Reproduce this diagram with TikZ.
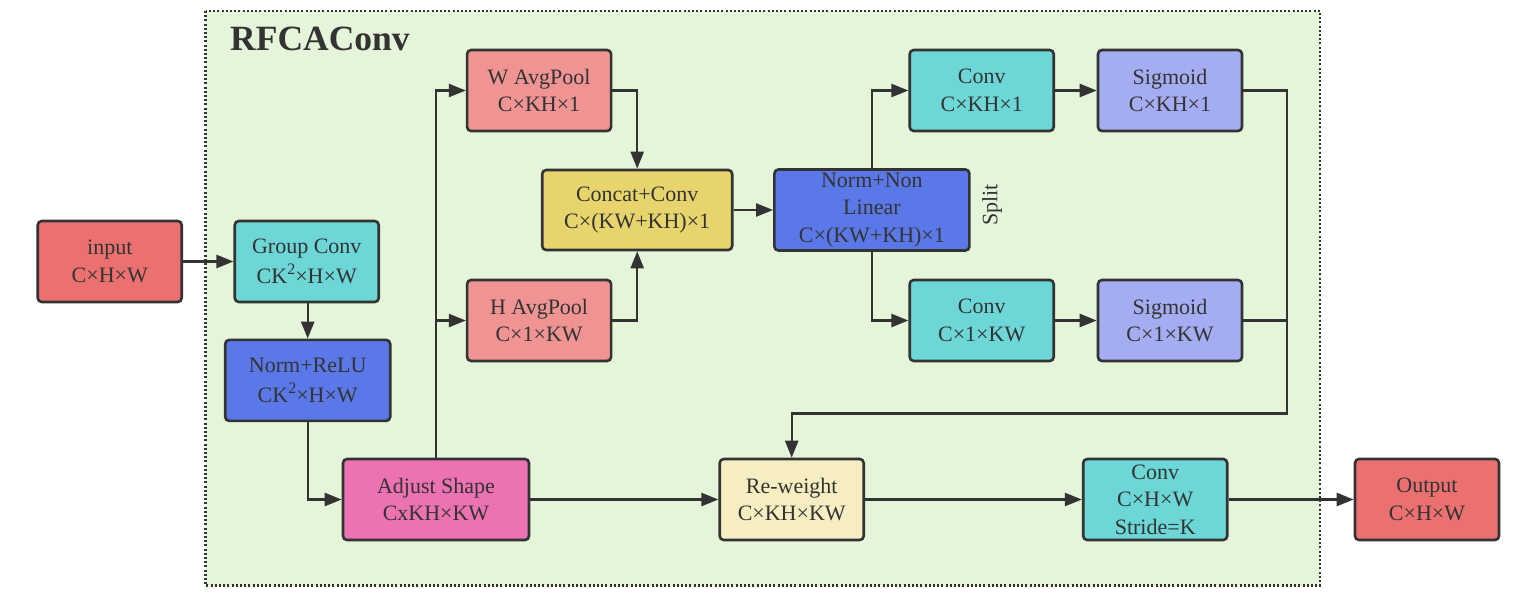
\documentclass[tikz,border=0pt]{standalone}
\usepackage{fontspec}
\setmainfont{Liberation Serif}
\usetikzlibrary{arrows.meta,calc}
\definecolor{ink}{HTML}{333333}
\definecolor{cRed}{HTML}{EB7070}
\definecolor{cCyan}{HTML}{6DD6D6}
\definecolor{cBlue}{HTML}{5B78E9}
\definecolor{cPink}{HTML}{EC72B1}
\definecolor{cPool}{HTML}{F09393}
\definecolor{cYel}{HTML}{E8D46C}
\definecolor{cSig}{HTML}{A4ADF2}
\definecolor{cRew}{HTML}{F6EDC1}
\definecolor{cBg}{HTML}{E4F5DA}
\newcommand{\sqsup}{\raisebox{9pt}{\fontsize{16}{16}\selectfont 2}}
\tikzset{
  blk/.style={rectangle, rounded corners=4pt, draw=ink, line width=2.6pt,
    align=center, inner sep=0pt, text=ink,
    font=\fontsize{22}{27.5}\selectfont,
    minimum width=144pt, minimum height=81pt},
  conn/.style={draw=ink, line width=2.4pt},
  arr/.style={conn, -{Triangle[length=17pt,width=13pt]}},
}
\begin{document}
\begin{tikzpicture}[x=1pt,y=-1pt]
\useasboundingbox (0,0) rectangle (1536,597);
% frame
\fill[cBg] (205.5,11) rectangle (1320,585.5);
\draw[ink, line width=2.3pt, dash pattern=on 2pt off 2.2pt] (205.5,11) rectangle (1320,585.5);
\node[anchor=base west, text=ink, font=\fontsize{35.5}{40}\selectfont\bfseries, inner sep=0pt] (title) at (230,50.5) {RFCAConv};
% nodes
\node[blk, fill=cRed] (input) at (109.75,261.5) {input\\C×H×W};
\node[blk, fill=cCyan] (gconv) at (306.75,261.5) {Group Conv\\[2pt]CK\sqsup×H×W};
\node[blk, fill=cBlue, minimum width=165pt] (normrelu) at (307.7,380.4) {Norm+ReLU\\[2pt]CK\sqsup×H×W};
\node[blk, fill=cPink, minimum width=186pt] (adjust) at (436,499.5) {Adjust Shape\\CxKH×KW};
\node[blk, fill=cPool] (wpool) at (539.1,90.5) {W AvgPool\\C×KH×1};
\node[blk, fill=cPool] (hpool) at (539.1,320.5) {H AvgPool\\C×1×KW};
\node[blk, fill=cYel, minimum width=190pt, minimum height=80pt] (concat) at (637.2,210) {Concat+Conv\\C×(KW+KH)×1};
\node[blk, fill=cBlue, minimum width=195pt] (normnl) at (871.9,210) {Norm+Non\\Linear\\C×(KW+KH)×1};
\node[blk, fill=cCyan] (convt) at (981.7,90.5) {Conv\\C×KH×1};
\node[blk, fill=cSig] (sigt) at (1170,90.5) {Sigmoid\\C×KH×1};
\node[blk, fill=cCyan] (convb) at (981.7,320.5) {Conv\\C×1×KW};
\node[blk, fill=cSig] (sigb) at (1170,320.5) {Sigmoid\\C×1×KW};
\node[blk, fill=cRew] (reweight) at (791.7,499.5) {Re-weight\\C×KH×KW};
\node[blk, fill=cCyan] (convs) at (1155.2,499.5) {Conv\\C×H×W\\Stride=K};
\node[blk, fill=cRed] (output) at (1427,499.5) {Output\\C×H×W};
\node[rotate=90, text=ink, font=\fontsize{22}{25}\selectfont, inner sep=0pt] (split) at (992,205) {Split};
% connectors
\draw[arr] (input.east) -- (gconv.west);
\draw[arr] (gconv.south) -- (normrelu.south |- gconv.south) -- (normrelu.north);
\draw[arr] (normrelu.south) |- (adjust.west);
\draw[arr] (adjust.north) |- (wpool.west);
\coordinate (hb) at (adjust.north |- hpool.west);
\draw[arr] (hb) -- (hpool.west);
\draw[arr] (wpool.east) -| (concat.north);
\draw[arr] (hpool.east) -| (concat.south);
\draw[arr] (concat.east) -- (normnl.west);
\draw[arr] (normnl.north) |- (convt.west);
\draw[arr] (normnl.south) |- (convb.west);
\draw[arr] (convt.east) -- (sigt.west);
\draw[arr] (convb.east) -- (sigb.west);
\coordinate (busT) at (1287,90.5);
\coordinate (busB) at (1287,413.5);
\draw[conn] (sigb.east) -- (sigb.east -| busT);
\draw[arr] (sigt.east) -- (busT) -- (busB) -- (reweight.north |- busB) -- (reweight.north);
\draw[arr] (adjust.east) -- (reweight.west);
\draw[arr] (reweight.east) -- (convs.west);
\draw[arr] (convs.east) -- (output.west);
\end{tikzpicture}
\end{document}
